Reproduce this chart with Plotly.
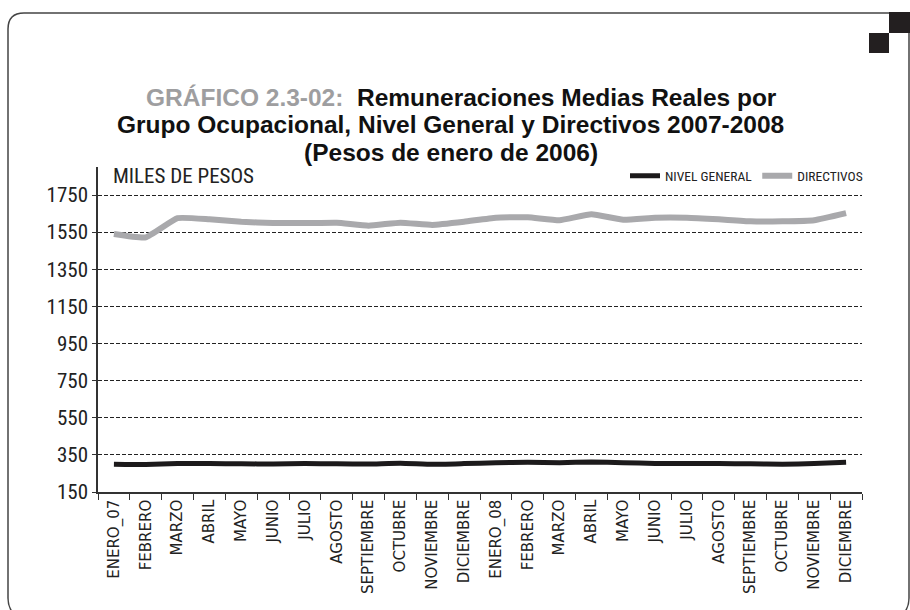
import plotly.graph_objects as go

# ---- data ----
months = ["ENERO_07", "FEBRERO", "MARZO", "ABRIL", "MAYO", "JUNIO", "JULIO", "AGOSTO",
          "SEPTIEMBRE", "OCTUBRE", "NOVIEMBRE", "DICIEMBRE",
          "ENERO_08", "FEBRERO", "MARZO", "ABRIL", "MAYO", "JUNIO", "JULIO", "AGOSTO",
          "SEPTIEMBRE", "OCTUBRE", "NOVIEMBRE", "DICIEMBRE"]
nivel_general = [300, 298, 303, 303, 302, 301, 303, 302, 301, 305, 299, 303,
                 308, 310, 308, 312, 308, 304, 303, 303, 302, 300, 303, 310]
directivos = [1540, 1522, 1625, 1619, 1606, 1599, 1599, 1601, 1585, 1601, 1589, 1606,
              1628, 1630, 1614, 1646, 1617, 1628, 1628, 1619, 1608, 1608, 1614, 1652]
y_ticks = [150, 350, 550, 750, 950, 1150, 1350, 1550, 1750]
x_pos = list(range(len(months)))
title_lines = [
    "<span style='color:#9e9ea0'>GRÁFICO 2.3-02:</span>&nbsp; Remuneraciones Medias Reales por",
    "Grupo Ocupacional, Nivel General y Directivos 2007-2008",
    "(Pesos de enero de 2006)",
]

# ---- layout geometry (pixels) ----
W, H = 910, 610
L, R, T, B = 98, 862, 167, 492
PW, PH = R - L, B - T
YMAX = 150 + PH * 1600 / (B - 195)


def px(x):
    return (x - L) / PW


def py(y):
    return (B - y) / PH


NARROW = "Roboto Condensed, DejaVu Sans Condensed, Roboto, sans-serif"
TITLE_FONT = "Liberation Sans, Arial, sans-serif"

fig = go.Figure()
fig.add_trace(go.Scatter(x=x_pos, y=nivel_general, mode="lines", name="NIVEL GENERAL",
                         line=dict(color="#1c1a1b", width=5, shape="spline", smoothing=0.4)))
fig.add_trace(go.Scatter(x=x_pos, y=directivos, mode="lines", name="DIRECTIVOS",
                         line=dict(color="#a9a9ac", width=6, shape="spline", smoothing=0.4)))

fig.update_layout(
    width=W, height=H,
    margin=dict(l=L, r=W - R, t=T, b=H - B, autoexpand=False),
    paper_bgcolor="white", plot_bgcolor="white",
    showlegend=True,
    legend=dict(orientation="h", x=px(868), xanchor="right", y=py(176), yanchor="middle",
                font=dict(family=NARROW, size=13.5, color="#222"),
                itemwidth=30, bgcolor="rgba(0,0,0,0)", traceorder="normal"),
    xaxis=dict(range=[-0.5, 23.5], tickmode="array", tickvals=x_pos, ticktext=months,
               tickangle=-90, ticks="", showgrid=False, zeroline=False,
               showline=True, linecolor="#333", linewidth=1.5,
               tickfont=dict(family="DejaVu Sans", size=15, color="#222"),
               minor=dict(tickmode="array", tickvals=[i - 0.5 for i in range(len(months) + 1)],
                          ticks="outside", ticklen=6, tickcolor="#333", tickwidth=1.2,
                          showgrid=False)),
    yaxis=dict(range=[150, YMAX], tickmode="array", tickvals=y_ticks,
               ticks="outside", ticklen=4, tickcolor="#333",
               showgrid=True, gridcolor="#222", griddash="4px,2px", gridwidth=1,
               zeroline=False, showline=True, linecolor="#333", linewidth=1.5,
               tickfont=dict(family=NARROW, size=21, color="#222")),
)

for i, (line, cx) in enumerate(zip(title_lines, [461, 450, 451])):
    fig.add_annotation(xref="paper", yref="paper", x=px(cx), y=py(97 + 27.7 * i),
                       showarrow=False, xanchor="center", yanchor="middle",
                       font=dict(family=TITLE_FONT, size=24.5, color="#111"),
                       text=f"<b>{line}</b>")
fig.add_annotation(xref="paper", yref="paper", x=px(111), y=py(176), showarrow=False,
                   xanchor="left", yanchor="middle",
                   font=dict(family=NARROW, size=21, color="#222"),
                   text="MILES DE PESOS")


# ---- frame decorations ----
def path(points_cmds):
    out = []
    for cmd in points_cmds:
        if isinstance(cmd, str):
            out.append(cmd)
        else:
            out.append(f"{px(cmd[0]):.5f},{py(cmd[1]):.5f}")
    return " ".join(out)


fig.add_shape(type="path", xref="paper", yref="paper",
              path=path(["M", (889, 13), "L", (24, 13), "Q", (8, 13), (8, 29),
                         "L", (8, 598), "Q", (8, 608), (14, 614)]),
              line=dict(color="#444", width=1.5))
fig.add_shape(type="path", xref="paper", yref="paper",
              path=path(["M", (909, 33), "L", (909, 598), "Q", (909, 608), (903, 614)]),
              line=dict(color="#444", width=1.5))
fig.add_shape(type="rect", xref="paper", yref="paper",
              x0=px(889), x1=px(910), y0=py(12), y1=py(33),
              fillcolor="#231f20", line=dict(width=0))
fig.add_shape(type="rect", xref="paper", yref="paper",
              x0=px(869), x1=px(889), y0=py(33), y1=py(53),
              fillcolor="#231f20", line=dict(width=0))

fig.write_html("out.html", config={"displayModeBar": False},
               post_script="document.body.style.margin='0px';")
